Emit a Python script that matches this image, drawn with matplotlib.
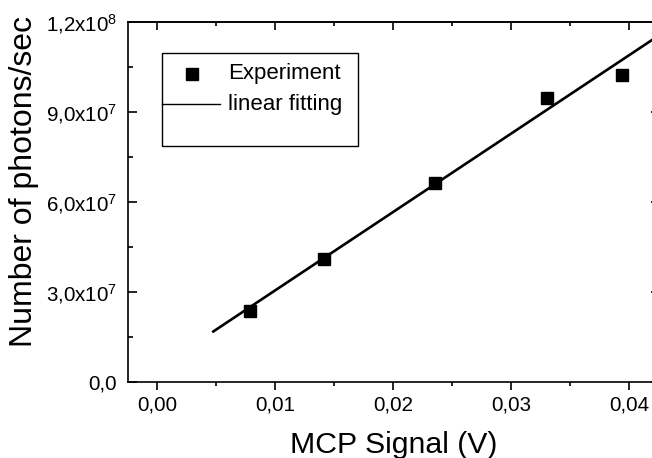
import matplotlib
matplotlib.use("Agg")
import matplotlib.pyplot as plt
from matplotlib.ticker import MultipleLocator, FixedLocator, FixedFormatter
from matplotlib.patches import Rectangle
from matplotlib.lines import Line2D

# ---- data ----
exp_x = [0.00782, 0.01412, 0.02358, 0.03305, 0.03937]
exp_y = [2.38e7, 4.11e7, 6.63e7, 9.45e7, 1.023e8]
fit_x = [0.00466, 0.0425]
fit_y = [1.667e7, 1.154e8]
xtick_vals = [0.00, 0.01, 0.02, 0.03, 0.04]
xtick_labels = ["0,00", "0,01", "0,02", "0,03", "0,04"]
ytick_vals = [0, 3e7, 6e7, 9e7, 1.2e8]
ytick_labels = ["0,0", "3,0x10$^{7}$", "6,0x10$^{7}$", "9,0x10$^{7}$", "1,2x10$^{8}$"]
legend_labels = ["Experiment", "linear fitting"]
xlabel = "MCP Signal (V)"
ylabel = "Number of photons/sec"

plt.rcParams['font.family'] = ['Liberation Sans', 'DejaVu Sans']
plt.rcParams['mathtext.fontset'] = 'custom'
plt.rcParams['mathtext.rm'] = 'Liberation Sans'
plt.rcParams['mathtext.it'] = 'Liberation Sans'

fig = plt.figure(figsize=(6.52, 4.58), dpi=100)
ax = fig.add_axes([0.1959, 0.1653, 0.8144, 0.7873])

ax.plot(fit_x, fit_y, color='black', lw=1.9, solid_capstyle='butt', zorder=2)
ax.plot(exp_x, exp_y, linestyle='none', marker='s', markersize=8.6,
        color='black', zorder=3)

ax.set_xlim(-0.0025, 0.0425)
ax.set_ylim(0, 1.2e8)

ax.xaxis.set_major_locator(FixedLocator(xtick_vals))
ax.xaxis.set_major_formatter(FixedFormatter(xtick_labels))
ax.xaxis.set_minor_locator(MultipleLocator(0.005))
ax.yaxis.set_major_locator(FixedLocator(ytick_vals))
ax.yaxis.set_major_formatter(FixedFormatter(ytick_labels))
ax.yaxis.set_minor_locator(MultipleLocator(1.5e7))

for s in ax.spines.values():
    s.set_linewidth(1.2)

ax.tick_params(axis='x', which='major', direction='out', length=5.5, width=1.2,
               labelsize=14.8, pad=4, top=False)
ax.tick_params(axis='x', which='minor', direction='out', length=3, width=1.2, top=False)
ax.tick_params(axis='y', which='major', direction='in', length=6.5, width=1.2,
               labelsize=14.8, pad=7.5, right=False)
ax.tick_params(axis='y', which='minor', direction='in', length=3.5, width=1.2, right=False)

# top and right ticks pointing inward
sec_x = ax.secondary_xaxis('top')
sec_x.xaxis.set_major_locator(FixedLocator(xtick_vals))
sec_x.xaxis.set_minor_locator(MultipleLocator(0.005))
sec_x.tick_params(which='major', direction='in', length=5.5, width=1.2, labeltop=False)
sec_x.tick_params(which='minor', direction='in', length=3, width=1.2)
sec_x.spines['top'].set_linewidth(1.2)
sec_y = ax.secondary_yaxis('right')
sec_y.yaxis.set_major_locator(FixedLocator(ytick_vals))
sec_y.yaxis.set_minor_locator(MultipleLocator(1.5e7))
sec_y.tick_params(which='major', direction='in', length=5.5, width=1.2, labelright=False)
sec_y.tick_params(which='minor', direction='in', length=3, width=1.2)
sec_y.spines['right'].set_linewidth(1.2)

ax.set_xlabel(xlabel, fontsize=21.8, labelpad=12)
ax.set_ylabel(ylabel, fontsize=23, labelpad=5)
ax.yaxis.label.set_y(0.5555)

# legend drawn in axes coordinates
ax.add_patch(Rectangle((0.0652, 0.6553), 0.4331 - 0.0652, 0.914 - 0.6553,
                       transform=ax.transAxes, fill=False, lw=1.0,
                       edgecolor='black', zorder=4))
ax.add_line(Line2D([0.1211], [0.8541], transform=ax.transAxes, marker='s',
                   markersize=8.4, color='black', linestyle='none', zorder=5))
ax.add_line(Line2D([0.0652, 0.1738], [0.7709, 0.7709], transform=ax.transAxes,
                   color='black', lw=1.0, zorder=5))
ax.text(0.1889, 0.8403, legend_labels[0], transform=ax.transAxes,
        fontsize=16, va='baseline', ha='left', zorder=5)
ax.text(0.1889, 0.7551, legend_labels[1], transform=ax.transAxes,
        fontsize=16, va='baseline', ha='left', zorder=5)

fig.savefig("out.png", dpi=100)
